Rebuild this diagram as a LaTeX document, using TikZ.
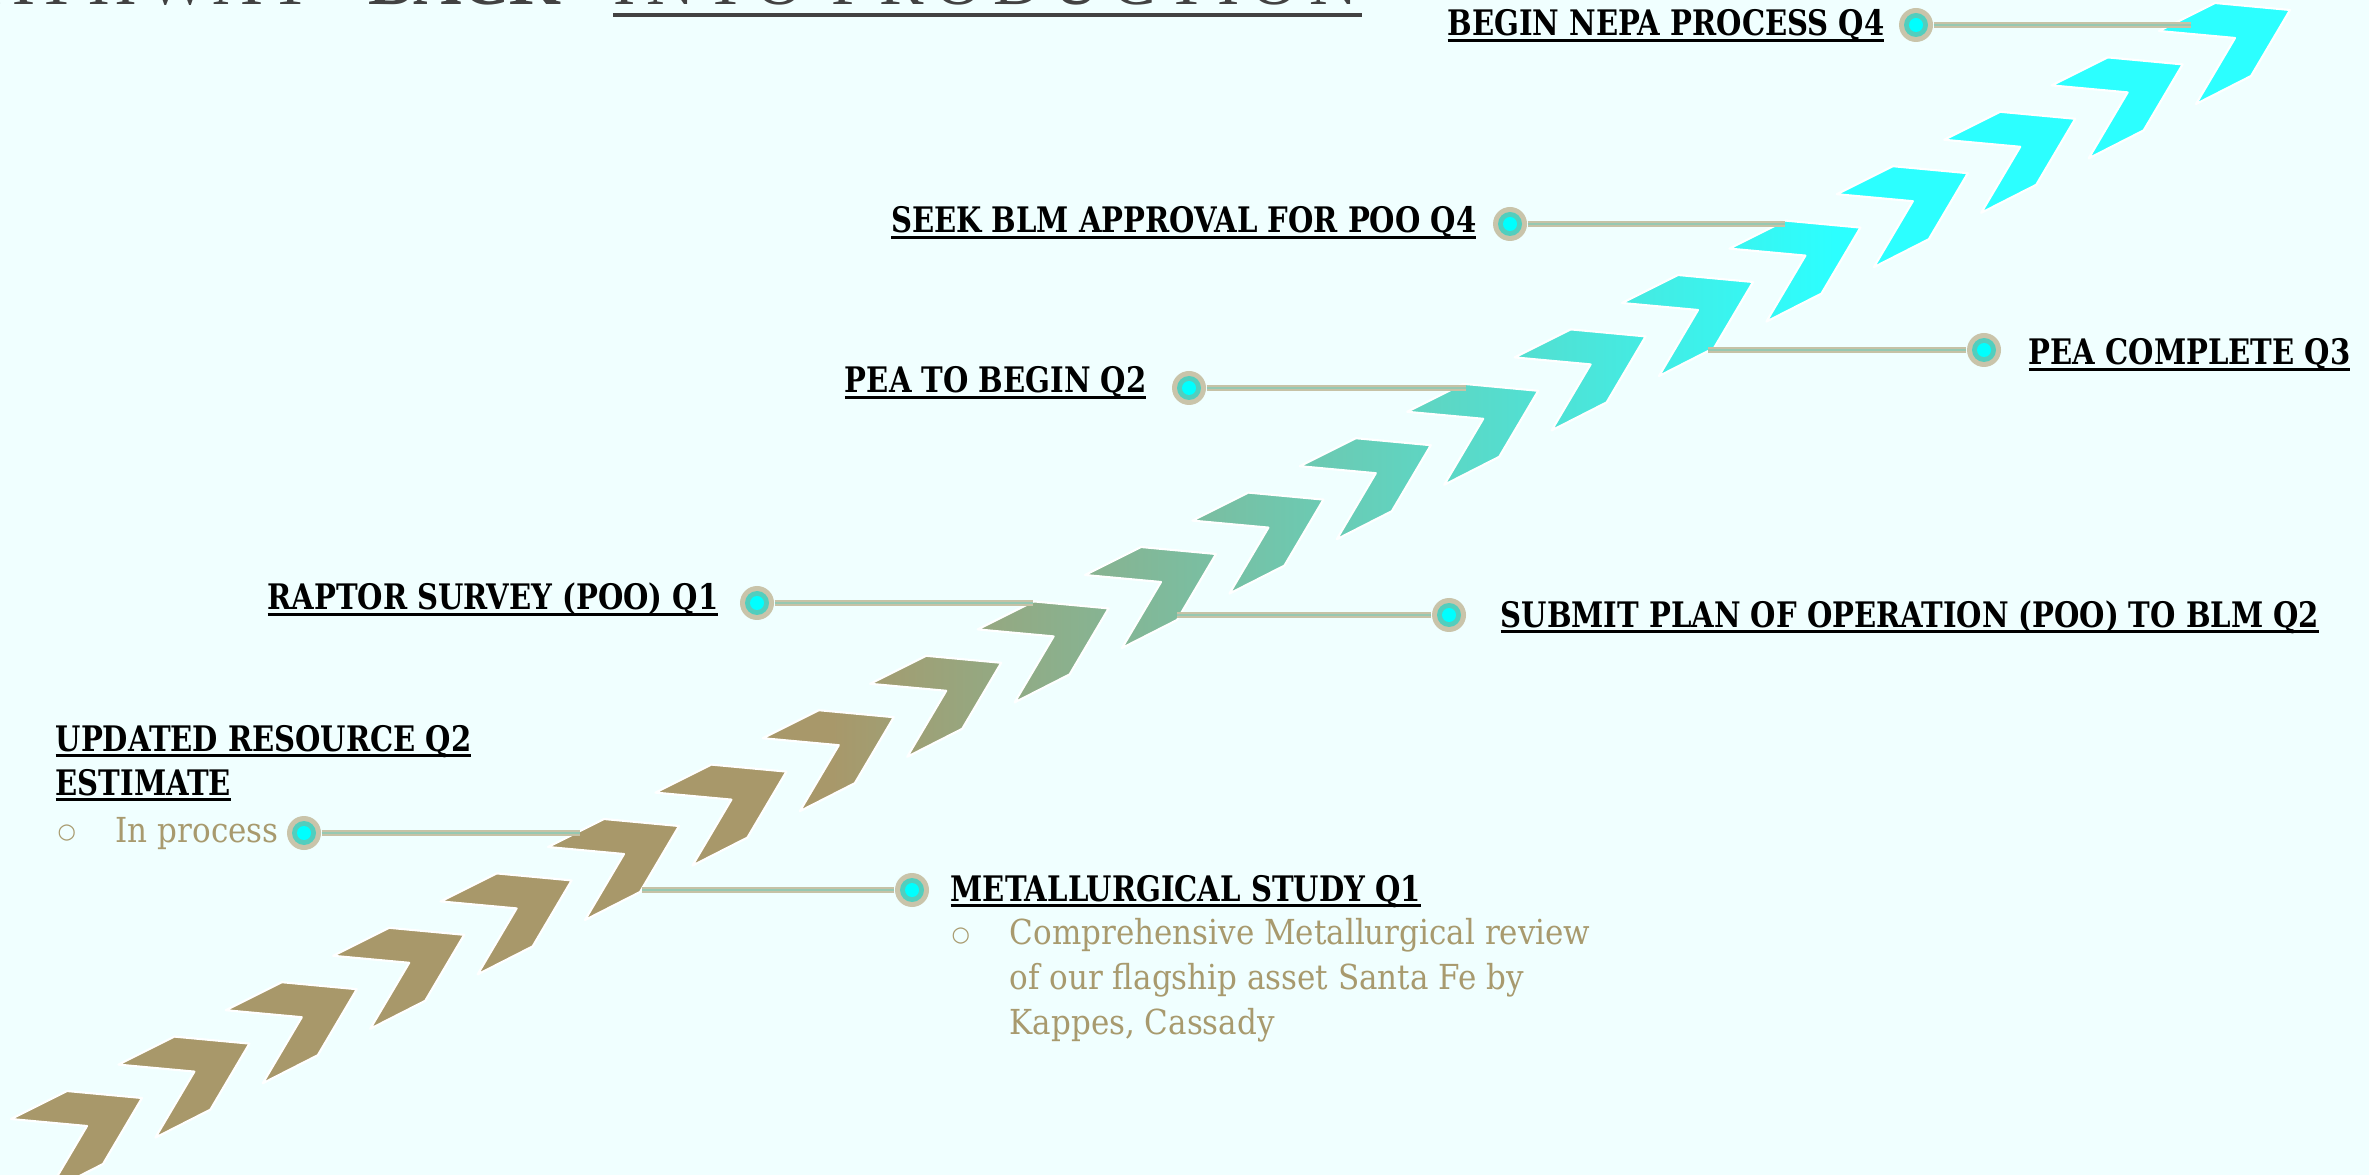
\documentclass[tikz,border=0pt]{standalone}
\usepackage{fontspec}
\setmainfont{DejaVu Serif Condensed}
\newfontfamily\tagfont[FakeStretch=0.92]{DejaVu Serif Condensed}
\newfontfamily\titlefont{Liberation Serif}
\newfontfamily\bulletfont{DejaVu Sans}
\usetikzlibrary{positioning}

% colours
\definecolor{paper}{RGB}{240,255,255}
\definecolor{chevtan}{RGB}{168,152,106}
\definecolor{chevcyan}{RGB}{44,255,255}
\definecolor{ringtan}{RGB}{201,196,170}
\definecolor{ringteal}{RGB}{82,206,190}
\definecolor{dotcyan}{RGB}{0,255,255}
\definecolor{stemtan}{RGB}{198,194,166}
\definecolor{stemteal}{RGB}{150,200,178}
\definecolor{notetan}{RGB}{168,154,110}
\definecolor{titlegray}{RGB}{66,66,66}

% tan to cyan along the steps
\pgfdeclarehorizontalshading{chevshade}{100bp}{color(0bp)=(chevtan); color(43bp)=(chevtan); color(65bp)=(chevcyan); color(100bp)=(chevcyan)}

% underlined label text
\newcommand\ulined[1]{\setbox0=\hbox{#1}\rlap{\rule[-1.7pt]{\wd0}{0.8pt}}\box0}

\begin{document}
\begin{tikzpicture}[x=0.1mm, y=-0.1mm,
    chevron/.style={shade, shading=chevshade, draw=white, line width=0.6pt, line join=round},
    stem/.style={draw=stemtan, line width=0.5pt, double=stemteal, double distance=0.45pt},
    dot/.style={circle, fill=ringtan, minimum size=3.4mm, inner sep=0pt,
      path picture={\fill[ringteal] (path picture bounding box.center) circle (1.2mm);
        \fill[dotcyan] (path picture bounding box.center) circle (0.7mm);}},
    tag/.style={inner sep=0pt, font=\tagfont\fontsize{10}{12.5}\selectfont\bfseries},
    note/.style={inner sep=0pt, text=notetan, font=\fontsize{9.8}{12.7}\selectfont, align=left},
    bullet/.style={inner sep=0pt, text=notetan, font=\bulletfont\fontsize{6}{6}\selectfont},
    title/.style={inner sep=0pt, text=titlegray, font=\titlefont\fontsize{19}{19}\selectfont\addfontfeatures{LetterSpace=16}}]

    % page
    \useasboundingbox (0,0) rectangle (2369,1175);
    \clip (0,0) rectangle (2369,1175);
    \fill[paper] (0,0) rectangle (2369,1175);

    % title, cut by the top edge
    \node[title, anchor=base east] (word-path) at (315,5) {PATHWAY};
    \node[title, anchor=base west, font=\titlefont\fontsize{19}{19}\selectfont\bfseries] (word-back) at (368,5) {BACK};
    \node[title, anchor=base west] (word-prod) at (613,5) {INTO PRODUCTION};
    \draw[titlegray, line width=1.15pt] (word-prod.base west) ++(0,10) -- ++(749,0);

    % the steps
    \path[chevron] \foreach \k [evaluate=\k as \tx using {142+107.4*\k},
                                evaluate=\k as \ty using {1098-54.4*\k}] in {0,...,20} {
      ({\tx-131},{\ty+21}) -- ({\tx-75},{\ty-7}) -- (\tx,\ty) -- ({\tx-39},{\ty+66})
        -- ({\tx-94},{\ty+94}) -- ({\tx-55},{\ty+28}) -- cycle};

    % milestones
    \node[dot] (nepa) at (1916,25) {};
    \coordinate (nepa-end) at (2191,25);
    \draw[stem] (nepa) -- (nepa-end);
    \node[tag, anchor=base east] (nepa-txt) at (1885,36) {\ulined{BEGIN NEPA PROCESS Q4}};

    \node[dot] (seek) at (1510,224) {};
    \coordinate (seek-end) at (1785,224);
    \draw[stem] (seek) -- (seek-end);
    \node[tag, anchor=base east] (seek-txt) at (1477,233) {\ulined{SEEK BLM APPROVAL FOR POO Q4}};

    \node[dot] (peadone) at (1984,350) {};
    \coordinate (peadone-end) at (1708,350);
    \draw[stem] (peadone) -- (peadone-end);
    \node[tag, anchor=base west] (peadone-txt) at (2028,365) {\ulined{PEA COMPLETE Q3}};

    \node[dot] (peastart) at (1189,388) {};
    \coordinate (peastart-end) at (1466,388);
    \draw[stem] (peastart) -- (peastart-end);
    \node[tag, anchor=base east] (peastart-txt) at (1147,393) {\ulined{PEA TO BEGIN Q2}};

    \node[dot] (raptor) at (757,603) {};
    \coordinate (raptor-end) at (1033,603);
    \draw[stem] (raptor) -- (raptor-end);
    \node[tag, anchor=base east] (raptor-txt) at (719,610) {\ulined{RAPTOR SURVEY (POO) Q1}};

    \node[dot] (submit) at (1449,615) {};
    \coordinate (submit-end) at (1177,615);
    \draw[stem] (submit) -- (submit-end);
    \node[tag, anchor=base west] (submit-txt) at (1500,627) {\ulined{SUBMIT PLAN OF OPERATION (POO) TO BLM Q2}};

    \node[dot] (resource) at (304,833) {};
    \coordinate (resource-end) at (580,833);
    \draw[stem] (resource) -- (resource-end);
    \node[tag, anchor=base west, align=left] (resource-txt) at (55,795) {\ulined{UPDATED RESOURCE Q2}\\\ulined{ESTIMATE}};
    \node[bullet, anchor=base west] (resource-bul) at (57,838) {○};
    \node[note, anchor=base west] (resource-note) at (115,842) {In process};

    \node[dot] (metal) at (912,890) {};
    \coordinate (metal-end) at (642,890);
    \draw[stem] (metal) -- (metal-end);
    \node[tag, anchor=base west] (metal-txt) at (950,901) {\ulined{METALLURGICAL STUDY Q1}};
    \node[bullet, anchor=base west] (metal-bul) at (951,941) {○};
    \node[note, anchor=base west] (metal-note) at (1009,1034) {Comprehensive Metallurgical review\\of our flagship asset Santa Fe by\\Kappes, Cassady};
  \end{tikzpicture}
\end{document}
